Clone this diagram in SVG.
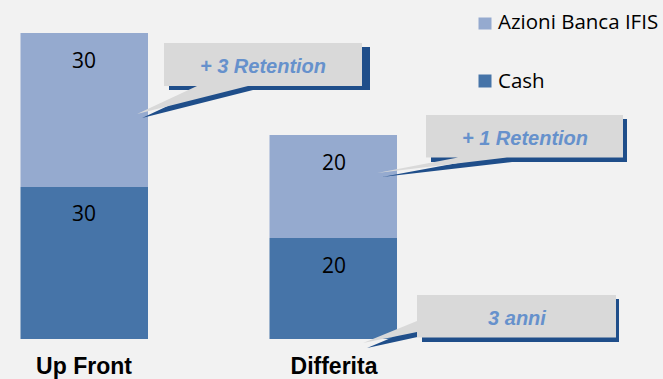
<svg xmlns="http://www.w3.org/2000/svg" width="663" height="379" viewBox="0 0 663 379">
<style>
.bg{fill:#F2F2F2}
.lt{fill:#95AACF}
.dk{fill:#4674A8}
.num{font-family:"Open Sans","Noto Sans",sans-serif;font-size:21px;fill:#000;text-anchor:middle}
.leg{font-family:"Open Sans","Noto Sans",sans-serif;font-size:20.5px;fill:#000}
.cat{font-family:"Liberation Sans",Arial,sans-serif;font-size:23px;font-weight:bold;fill:#000;text-anchor:middle}
.box{fill:#D9D9D9}
.shd{fill:#1F4E8A}
.ct{font-family:"Liberation Sans",Arial,sans-serif;font-size:20px;font-weight:bold;font-style:italic;fill:#6691CC;text-anchor:middle}
</style>
<rect class="bg" x="0" y="0" width="663" height="379"/>
<g id="bar-upfront">
<rect class="lt" x="20.5" y="33" width="127.5" height="154"/>
<rect class="dk" x="20.5" y="187" width="127.5" height="152"/>
<text class="num" x="84" y="68">30</text>
<text class="num" x="84" y="221">30</text>
<text class="cat" x="84" y="374">Up Front</text>
</g>
<g id="bar-differita">
<rect class="lt" x="269.5" y="135" width="127.5" height="103"/>
<rect class="dk" x="269.5" y="238" width="127.5" height="101"/>
<text class="num" x="334" y="170">20</text>
<text class="num" x="334" y="273">20</text>
<text class="cat" x="334" y="374">Differita</text>
</g>
<g id="legend">
<rect class="lt" x="478.5" y="17.5" width="13" height="12"/>
<text class="leg" x="498" y="29">Azioni Banca IFIS</text>
<rect class="dk" x="478.5" y="74.5" width="13" height="13"/>
<text class="leg" x="498" y="88">Cash</text>
</g>
<g id="connectors">
<g id="callout-3-retention">
<path class="shd" d="M169 47 H370 V90 H253 L142 118 L202 90 H169 Z"/>
<path class="box" d="M164 43 H362 V86 H248 L137 114 L197 86 H164 Z"/>
<text class="ct" x="263" y="73">+ 3 Retention</text>
</g>
<g id="callout-1-retention">
<path class="shd" d="M431 119 H627 V162 H512 L382 177 L463 162 H431 Z"/>
<path class="box" d="M426 115 H623 V157.5 H507 L377 173 L458 157.5 H426 Z"/>
<text class="ct" x="525" y="145">+ 1 Retention</text>
</g>
<g id="callout-3-anni">
<path class="shd" d="M422 299 H619 V342 H422 V336 L367 348 L422 325 Z"/>
<path class="box" d="M417 295 H616 V337.5 H417 V332 L363 343 L417 321 Z"/>
<text class="ct" x="517" y="325">3 anni</text>
</g>
</g>
</svg>
